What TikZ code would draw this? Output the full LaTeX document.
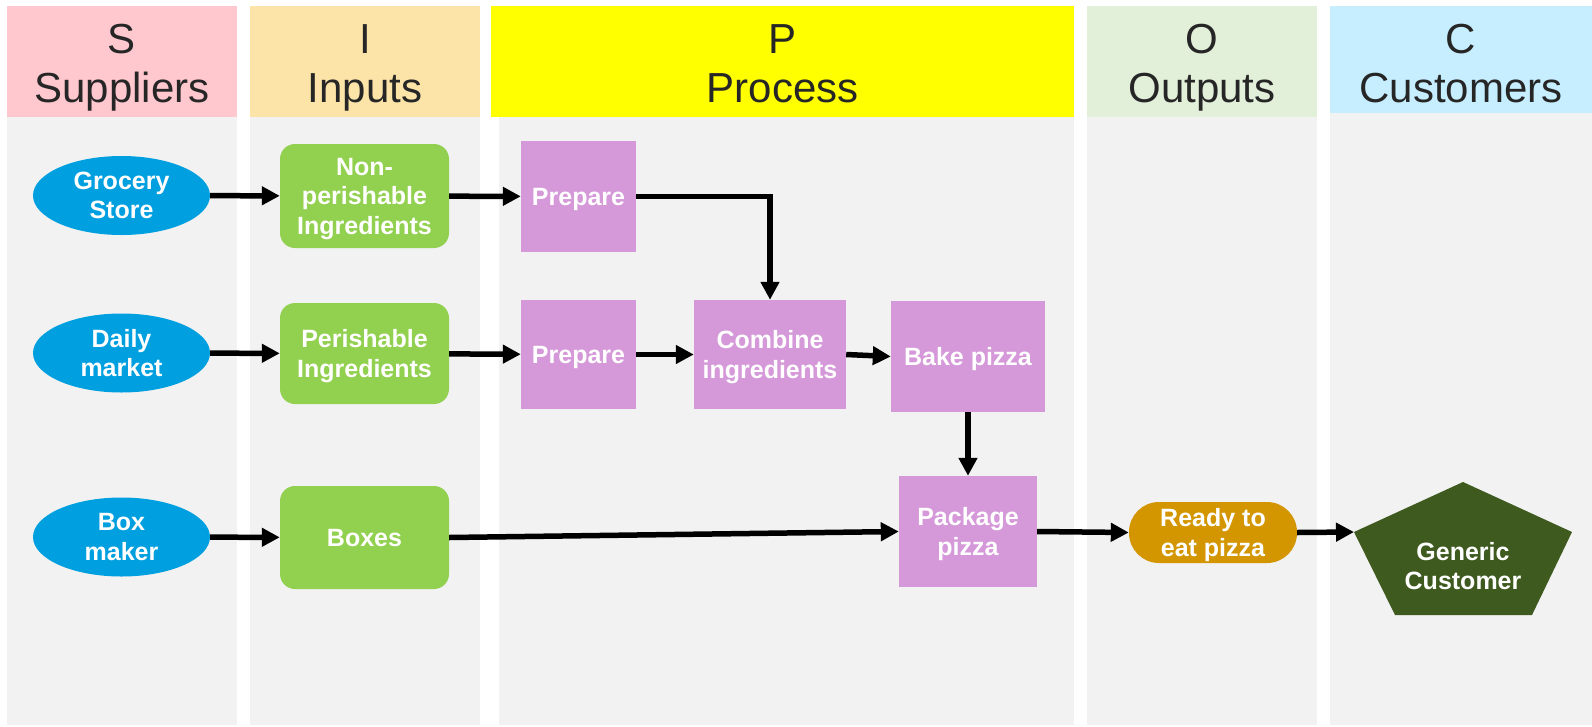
\documentclass[tikz,border=0pt]{standalone}
\usepackage{fontspec}
\setmainfont{Liberation Sans}
\usetikzlibrary{shapes.geometric,arrows.meta}
\definecolor{hS}{HTML}{FFC7CE}
\definecolor{hI}{HTML}{FCE4A8}
\definecolor{hP}{HTML}{FFFF00}
\definecolor{hO}{HTML}{E2EFD9}
\definecolor{hC}{HTML}{C6EEFF}
\definecolor{bodygray}{HTML}{F2F2F2}
\definecolor{supblue}{HTML}{009FDF}
\definecolor{ingreen}{HTML}{92D050}
\definecolor{procpurple}{HTML}{D598D9}
\definecolor{outgold}{HTML}{D39600}
\definecolor{custgreen}{HTML}{3E5A1F}
\definecolor{hdrtext}{HTML}{262626}
\tikzset{
  hdr/.style={anchor=base, inner sep=0pt, text=hdrtext, font=\fontsize{42}{50}\selectfont},
  lbl/.style={text=white, align=center, inner sep=0pt, text depth=0pt, font=\bfseries\fontsize{25}{29.5}\selectfont},
  supp/.style={lbl, ellipse, fill=supblue, minimum width=177pt, minimum height=79pt},
  inp/.style={lbl, rectangle, rounded corners=15pt, fill=ingreen, minimum width=169pt},
  proc/.style={lbl, rectangle, fill=procpurple},
  outp/.style={lbl, rectangle, rounded corners=30pt, fill=outgold},
  flow/.style={line width=5.5pt, -{Triangle[length=18pt,width=18pt]}}
}
\begin{document}
\begin{tikzpicture}[x=1pt,y=-1pt]
\useasboundingbox (0,0) rectangle (1592,726);
% column bodies
\fill[bodygray] (7,117) rectangle (237,725);
\fill[bodygray] (250,117) rectangle (480,725);
\fill[bodygray] (499,117) rectangle (1074,725);
\fill[bodygray] (1087,117) rectangle (1317,725);
\fill[bodygray] (1330,113) rectangle (1592,725);
% headers
\fill[hS] (7,6) rectangle (237,117);
\fill[hI] (250,6) rectangle (480,117);
\fill[hP] (491,6) rectangle (1074,117);
\fill[hO] (1087,6) rectangle (1317,117);
\fill[hC] (1330,6) rectangle (1592,113);
\node[hdr] (tS1) at (122,53) {S};
\node[hdr] (tS2) at (122,102) {Suppliers};
\node[hdr] (tI1) at (365,53) {I};
\node[hdr] (tI2) at (365,102) {Inputs};
\node[hdr] (tP1) at (782.5,53) {P};
\node[hdr] (tP2) at (782.5,102) {Process};
\node[hdr] (tO1) at (1202,53) {O};
\node[hdr] (tO2) at (1202,102) {Outputs};
\node[hdr] (tC1) at (1461,53) {C};
\node[hdr] (tC2) at (1461,102) {Customers};
% suppliers
\node[supp] (grocery) at (121.5,195.5) {Grocery\\Store};
\node[supp] (daily) at (121.5,353) {Daily\\market};
\node[supp] (boxmk) at (121.5,537) {Box\\maker};
% inputs
\node[inp, minimum height=104pt] (nonp) at (364.5,196) {Non-\\perishable\\Ingredients};
\node[inp, minimum height=101pt] (peri) at (364.5,353.5) {Perishable\\Ingredients};
\node[inp, minimum height=103pt] (boxes) at (364.5,537.5) {Boxes};
% process
\node[proc, minimum width=115pt, minimum height=111pt] (prep1) at (578.5,196.5) {Prepare};
\node[proc, minimum width=115pt, minimum height=109pt] (prep2) at (578.5,354.5) {Prepare};
\node[proc, minimum width=152pt, minimum height=109pt] (comb) at (770,354.5) {Combine\\ingredients};
\node[proc, minimum width=154pt, minimum height=111pt] (bake) at (968,356.5) {Bake pizza};
\node[proc, minimum width=138pt, minimum height=111pt] (pack) at (968,531.5) {Package\\pizza};
% output
\node[outp, minimum width=168pt, minimum height=61pt] (ready) at (1213,532.5) {Ready to\\eat pizza};
% customer pentagon
\fill[custgreen] (1463,482) -- (1572,532) -- (1532,615) -- (1395,615) -- (1354,532) -- cycle;
\coordinate (custL) at (1354,532);
\node[lbl] (cust) at (1463,566) {Generic\\Customer};
% connectors
\draw[flow] (grocery) -- (nonp);
\draw[flow] (daily) -- (peri);
\draw[flow] (boxmk) -- (boxes);
\draw[flow] (nonp) -- (prep1);
\draw[flow] (peri) -- (prep2);
\draw[flow] (boxes.east) -- (pack.west);
\draw[flow] (prep1.east) -| (comb.north);
\draw[flow] (prep2) -- (comb);
\draw[flow] (comb.east) -- (bake.west);
\draw[flow] (bake.south) -- (pack.north);
\draw[flow] (pack.east) -- (ready.west);
\draw[flow] (ready.east) -- (custL);
\end{tikzpicture}
\end{document}
